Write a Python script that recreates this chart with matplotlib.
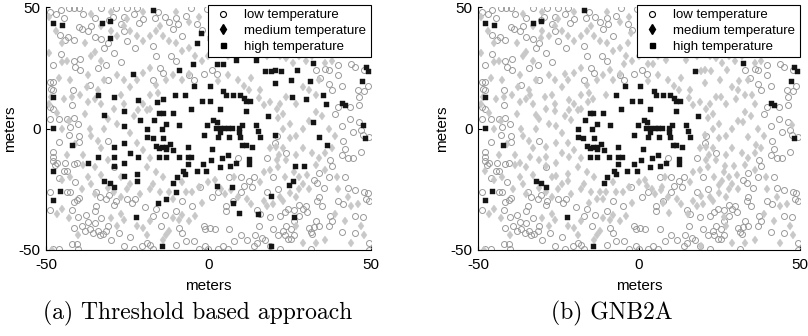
import matplotlib
matplotlib.use("Agg")
import matplotlib.pyplot as plt
from matplotlib.lines import Line2D

plt.rcParams['font.family'] = ['Liberation Sans', 'DejaVu Sans']
plt.rcParams['axes.unicode_minus'] = False

# sensor positions in meters (same field in both panels)
low_pts = [
    (-48.8, 48), (-47, 47), (-45.5, 48.6), (-42.8, 49.7), (-41.4, 49.7), (-39.7, 49.7), (-44.5, 45.5),
    (-38.5, 47.3), (-39.8, 41.8), (-38.8, 41.1), (-43.1, 37.7), (-44.1, 36.3), (-45.7, 38.4), (-41.5, 36.5),
    (-45.5, 30.8), (-47.7, 26), (-41.5, 28), (-39.5, 28.5), (-41, 25.5), (-39.5, 24), (-48.8, 19.2),
    (-47.7, 19.2), (-48.3, 16.2), (-47.7, 15.8), (-41.8, 16), (-42, 9.8), (-48.8, 8.9), (-47.7, 8),
    (-48.8, 4.1), (-46, 4.1), (-43.5, 4.1), (-41.5, 4.5), (-42.5, 0.5), (-43, -2.8), (-39.7, -3.2),
    (-39.7, -5.5), (-46, -5.5), (-47.7, -9.6), (-47.7, -11.6), (-47.7, -13.2), (-47.2, -15.2), (-46.5, -14),
    (-44, -14), (-44.5, -17.5), (-43.5, -17.5), (-41.5, -14.8), (-40.5, -14.2), (-46, -20.4), (-41, -22),
    (-48.8, -26.2), (-43.5, -26.2), (-42.5, -26.2), (-41.5, -30.4), (-40.5, -29.5), (-39.8, -28.8),
    (-48.8, -33.7), (-42, -33.7), (-40, -36.5), (-37.8, -35.5), (-41.5, -41), (-39, -40), (-42, -47.5),
    (-40.5, -47.5), (-40, -49.5), (-47.7, -49.5), (-46, -49.5), (-38, -42), (-37, -38.5),
    (-36.5, -41.5), (-35, -39), (-35.5, -43), (-34, -42), (-33.5, -44), (-32.5, -43.5), (-31.5, -42),
    (-31, -40), (-33, -37), (-34.5, -26), (-33.5, -28), (-31.5, -29), (-30.5, -27.5), (-29, -31.5),
    (-28.5, -30), (-34.5, -32), (-35, -34), (-30, -46), (-27.5, -43), (-26, -48.5), (-24, -44.5),
    (-23, -49.5), (-25, -29), (-23.5, -30.5), (-22.5, -29), (-19.5, -32.5), (-17, -36), (-14.5, -40),
    (-16, -33), (-13.5, -35.5), (-10, -33.8), (-9, -41), (-8, -43), (-10, -48), (-17, -49.5), (-18, -48),
    (-19, -47), (-20.5, -48.5), (-7, -46.5), (-4.5, -46.5), (-3, -49.5), (-1, -48.5), (0, -49.5),
    (-1.5, -40), (-1, -41.5), (0.5, -41), (2, -41.5), (3, -49.5), (4.5, -48.5), (6, -49.5), (6.5, -41.5),
    (7.5, -30), (5.5, -32), (5.5, -34), (10, -26), (11, -23.5), (12.5, -21.5), (13.5, -24), (15, -33.5),
    (15.5, -40), (14.5, -44), (15, -47), (16.5, -45), (17.5, -46), (19, -48.5), (14, -48.5), (21.5, -44),
    (23, -42), (24, -40), (23.5, -44), (24.5, -45.5), (25.5, -45.5), (22, -36), (23.5, -34.5), (24.5, -33),
    (26.5, -33.5), (28, -31.5), (29, -33), (30, -32), (30.5, -34.5), (28, -36), (26.5, -38), (25.5, -41.5),
    (22, -49.5), (31, -41), (31.5, -42.5), (32, -43.5), (32.5, -40.5), (33, -38), (34, -40), (31.5, -49.5),
    (37, -40), (37.5, -36), (38, -38), (35, -32), (33.5, -30), (34, -28), (40, -30), (41.5, -31), (45, -36),
    (41, -42.5), (45, -43), (47.5, -36.5), (49.5, -30), (48.5, -29), (49.5, -47), (49.5, -50), (48, -26),
    (49, -26.5), (45, -25.5), (43, -24.5), (42, -20), (37, -20), (35.5, -24.5), (32.5, -21), (33.5, -22.5),
    (34, -18.5), (37.5, -13), (38, -15.5), (41, -11), (43, -12), (44.5, -12), (47, -9.5), (42, -8.5),
    (41.5, -5), (44.5, -1.5), (47, -0.5), (47.5, -2.5), (49.5, -3.5), (46.5, 2.5), (43.5, 4), (41, 1),
    (39, 6), (40, 9), (43.5, 9), (46.5, 9.5), (46.5, 13), (48, 15.5), (49, 17.5), (46, 16), (41, 17.5),
    (38, 16), (37, 18.5), (36, 24.5), (37, 24), (33, 24), (34.5, 21), (44, 26.5), (45, 25.5), (48, 24),
    (40, 22), (40, 26),
    (-12, 44), (-10, 45.5), (-9.5, 43), (-11, 41), (-8, 38), (-7, 46.5), (-3.5, 43), (-2, 40.5),
    (-0.5, 49), (1, 48), (-5.5, 49.5), (-13.5, 46), (-15.5, 48), (-16.5, 45.5), (-20, 45), (-21.5, 43.5),
    (-22, 49.5), (-23, 47), (-25, 49.5), (-26, 46), (-28.5, 49.5), (-29.5, 46), (-33, 49.5), (-31, 35),
    (-32, 33), (-29, 31), (-22.5, 33), (-25, 36), (-17, 34), (-16, 30), (-11.5, 30), (-10, 28), (-6, 22),
    (-4.5, 20), (-1.5, 22.5), (1, 24), (2.5, 22.5), (-17, 20), (-15, 25), (-14, 23), (-27, 27.5),
    (-34, 25), (-31.5, 26), (-31, 20), (-36.5, 18), (-33, 37), (-35, 37.5), (-37, 40), (-36, 42),
    (-35, 45.5), (-30.5, 44.5), (-27, 43), (-26, 40),
    (10, -20), (14, -20), (20, -20), (6.5, -20), (9, -12), (18, -12), (24, -10), (20.5, -6), (21, -3),
    (18, -26), (21.5, -25), (-2.5, -24), (-5, -32), (-8, -30), (1, -28), (3, -26), (16, -35), (19, -36.5),
    (20, -41.5), (26.5, -44), (12, -46), (10, -44), (8, -46.5), (-29, -16), (-31, -5), (-40, 2),
]

med_pts = [
    (-49, 46), (-47, 40), (-45, 35), (-49, 31), (-45, 27.5), (-43.5, 28), (-42.5, 20), (-46, 21),
    (-48.5, 13), (-44.5, 12), (-42, 13), (-49, 10), (-46.5, 6.5), (-43, 3), (-45, 0), (-41, -6.5),
    (-43.5, -11), (-38.5, -11), (-45, -21), (-42.5, -20), (-46.5, -35), (-45, -33), (-43, -37), (-40, -44),
    (-48, -50), (-39, -25), (-36, -23), (-37, -20), (-38.5, -15), (-35, -16), (-36, -3), (-36.5, 0),
    (-38, 6), (-37, 11), (-35, 12), (-37.5, 17), (-37, 22), (-39.5, 14), (-36, 30), (-38, 35),
    (-35, 31.5), (-33, 28), (-32, 20), (-34, 16), (-33, 10), (-31, 4), (-32, 0), (-34, -5), (-33, -8),
    (-31, -13), (-33, -19), (-35, -27), (-31, -24.5), (-29, -26), (-27, -28), (-25, -25), (-27, -35),
    (-30, -37), (-28, -40), (-26, -37.5), (-22, -40), (-20, -41), (-18, -38), (-19, -44), (-13, -44),
    (-14, -46), (-12, -42), (-11, -37), (-9, -37.5), (-8, -35.5), (-6, -38), (-4, -36), (-2, -30.5),
    (-5, -26), (-7, -26), (-3, -24), (0, -22), (2, -21), (4, -25), (5, -27), (7, -25.5), (9, -28),
    (12, -29), (13, -31), (17, -30), (18, -32), (20, -31), (23, -30), (22, -28), (25, -26.5), (27, -28),
    (29, -23), (31, -25), (30.5, -19), (28, -20), (26.5, -18), (23.5, -20), (21.5, -16), (19, -17),
    (17, -18), (21, -13), (24, -13), (27, -11), (29, -8), (32, -10), (34, -12), (36, -10), (38, -8),
    (39.5, -20), (40, -25), (43, -28), (44, -32), (46, -31), (39, -35), (42, -38), (47, -40), (48, -44),
    (44, -47), (36, -46), (33, -47), (29, -47), (27, -40), (28, -25), (33, -15), (36, -17), (39, -3),
    (37, 0), (35, 5), (33, 7), (31, 3), (29, 0), (27, -3), (25, 2), (23, 6), (22, 10), (24, 13), (27, 10),
    (29, 17), (31, 16), (33, 14), (34, 20), (36, 27), (38, 28), (32, 30), (30, 28), (28, 30), (26, 27),
    (24, 29), (22, 30), (20, 32), (18, 30), (16, 31), (14, 33), (12, 35), (10, 38), (8, 33), (6, 30),
    (3, 32), (0, 30), (-2, 28), (-4, 30), (-6, 33), (-8, 32), (-10, 35), (-12, 36), (-14, 38), (-16, 40),
    (-18, 38), (-20, 36), (-22, 38), (-24, 40), (-26, 42), (-28, 38), (-30, 40), (-33, 42), (-36, 47),
    (-30, 48), (-25, 45), (-20, 48), (-15, 42), (-10, 48), (-6, 44), (-3, 46),
    (-28, 22), (-26, 20), (-24, 17), (-22, 20), (-20, 23), (-18, 25), (-16, 18), (-13, 20), (-11, 22),
    (-8, 20), (-6, 22.5), (3, 19.5), (6, 22), (9, 20), (11, 17.5), (13, 21), (16, 16), (19, 11), (21, 8),
    (23, 0), (25, -4), (23, -8), (19, -8), (-18, 13.8), (-15.5, 14.6), (-21.7, 7.6), (-19, 7.6),
    (12.5, 15.8), (15.5, 12.5), (17, 9.7), (21.4, 4.3), (20.8, -7.6), (21.7, -10.9), (-18, 8),
    (-20, 10), (-23, 5), (-26, 10), (-27, 14), (-29, 8), (-28, 2), (-24, -2), (-22, -6), (-20, -9),
    (-18, -12), (-19, -16), (-16, -18), (-17, -23), (-14, -20), (-27, -20), (-24, -23), (-21, -27),
    (-18, -25), (-15, -26), (-11, -29), (-8, -22), (8, -20), (16, -22), (-12, -26),
]

# high temperature in both panels
high_pts = [
    (-47.7, 43.6), (-45.1, 42.5), (-32.9, 43.6), (-30.3, 44.4), (-17.0, 48.6), (48.4, 25.5), (49.2, 23.6),
    (47.3, 19.5), (32.3, 27.1), (17.4, 23.6), (-47.7, 13.0), (-47.7, 0.3), (-42.1, -6.8), (-45.7, -25.8),
    (-47.7, -29.5), (-32.1, -21.6), (-30.3, -22.3), (-29.0, -24.2), (-22.3, -36.6), (-14.3, -48.2),
    (41.2, 10.3), (42.0, 9.6), (48.2, -4.1),
    (-4.4, 17.4), (0.5, 17.4), (-7.2, 14.0), (-2.1, 11.4), (0.5, 11.4), (4.6, 15.3), (5.4, 13.7),
    (7.6, 14.0), (9.7, 14.0), (11.0, 12.7), (11.7, 11.2), (12.8, 11.2), (-14.1, 6.2), (-15.1, 6.4),
    (-11.0, 6.4), (-16.7, 3.4), (-13.1, 1.8), (-14.4, 0.0), (-19.0, 0.0), (-9.1, 1.4), (-5.4, 8.2),
    (3.5, 8.2), (11.7, 7.1), (18.4, 5.2), (1.5, 3.7), (2.5, 2.7), (-0.4, 1.4), (2.3, 0.4), (3.5, 0.4),
    (4.9, 0.4), (6.1, 0.4), (7.3, 0.4), (9.5, 0.4), (10.2, 1.4), (14.8, 1.4), (15.3, -1.1), (15.8, -3.4),
    (9.5, -1.4), (9.8, -3.4), (3.5, -1.4), (3.0, -3.4), (6.4, -3.4), (-1.4, -2.7), (-19.0, -3.4),
    (-17.2, -4.1), (-13.9, -4.1), (-16.0, -7.1), (-14.3, -7.5), (-13.1, -7.5), (-11.9, -6.2),
    (-10.9, -8.9), (-13.1, -8.5), (-15.1, -8.2), (-6.4, -7.5), (1.2, -8.6), (10.5, -6.8), (11.7, -6.8),
    (13.5, -7.5), (-15.1, -11.6), (-13.1, -11.6), (-9.2, -11.6), (-6.4, -11.6), (-5.2, -11.6),
    (-6.4, -14.7), (-1.6, -14.4), (0.8, -13.0), (4.1, -12.3), (5.9, -10.7), (6.6, -15.3), (8.6, -14.1),
    (12.6, -12.7), (12.6, -14.7), (3.5, -15.8), (-7.8, -17.5), (-7.1, -18.8), (-3.6, -17.5),
    (-0.6, -17.5), (-10.9, -22.3), (-9.8, -19.9),
]

# high in (a) threshold approach, medium in (b) GNB2A
high_a_only = [
    (-30.3, 37.4), (-2.3, 39.5), (0.5, 37.4), (-3.4, 35.3), (-4.6, 26.4), (2.8, 26.4), (4.4, 26.4),
    (8.5, 28.1), (14.6, 28.1), (19.2, 23.6), (20.5, 24.2), (22.5, 23.6), (27.4, 24.2), (-23.1, 22.6),
    (-9.1, 24.2), (20.6, 18.8), (25.4, 20.1), (31.3, 19.5), (-33.9, 14.0), (-29.1, 13.0), (-21.8, 11.9),
    (-15.9, 11.0), (-14.1, 12.2), (-10.3, 14.0), (25.6, 13.0), (30.2, 12.3), (35.3, 14.0), (36.1, 9.9),
    (-32.1, 5.5), (-26.0, 7.1), (-25.9, 1.1), (-21.1, 3.4), (32.3, 2.7), (47.7, 1.4), (34.1, -3.4),
    (36.4, -6.8), (20.5, -2.7), (-25.9, -5.9), (-29.0, -7.5), (-24.0, -10.0), (-29.0, -11.6),
    (-33.9, -11.6), (-37.0, -14.0), (-29.0, -15.5), (-25.9, -14.0), (-21.8, -11.6), (-47.7, -17.5),
    (-25.9, -19.6), (-22.1, -18.8), (-22.1, -21.6), (26.8, -15.3), (29.5, -15.3), (25.9, -21.6),
    (24.9, -23.3), (2.7, -23.6), (7.3, -24.0), (-10.1, -26.0), (-15.4, -30.5), (-13.1, -29.2),
    (19.2, -27.8), (7.6, -30.8), (9.3, -34.9), (15.3, -35.2), (26.4, -36.6), (19.4, -48.2),
]

captions = ["(a) Threshold based approach", "(b) GNB2A"]
legend_labels = ["low temperature", "medium temperature", "high temperature"]


def xy(pts):
    return [p[0] for p in pts], [p[1] for p in pts]


def draw_panel(ax, low, med, high):
    x, y = xy(low)
    ax.plot(x, y, 'o', ms=4.3, mfc='none', mec='#9a9a9a', mew=0.7)
    x, y = xy(med)
    ax.plot(x, y, 'd', ms=4.4, mfc='#c8c8c8', mec='#c8c8c8', mew=0.3)
    x, y = xy(high)
    ax.plot(x, y, 's', ms=3.6, mfc='#151515', mec='#151515', mew=0.3)

    ax.set_xlim(-50, 50)
    ax.set_ylim(-50, 50)
    ax.set_xticks([-50, 0, 50])
    ax.set_yticks([-50, 0, 50])
    ax.tick_params(direction='in', length=3, labelsize=11, width=0.8)
    ax.tick_params(axis='x', pad=6)
    ax.tick_params(axis='y', pad=4)
    for side in ['top', 'right']:
        ax.spines[side].set_visible(False)
    ax.set_xlabel('meters', fontsize=11, labelpad=5)
    ax.set_ylabel('meters', fontsize=11, labelpad=1)

    handles = [
        Line2D([], [], ls='none', marker='o', ms=4.3, mfc='none', mec='black', mew=0.8),
        Line2D([], [], ls='none', marker='d', ms=5, mfc='black', mec='black'),
        Line2D([], [], ls='none', marker='s', ms=3.6, mfc='black', mec='black'),
    ]
    leg = ax.legend(handles, legend_labels, loc='upper right', bbox_to_anchor=(1.0, 1.01),
                    borderaxespad=0, fontsize=9.5, frameon=True, fancybox=False,
                    framealpha=1, edgecolor='black', handletextpad=0.8, labelspacing=0.25,
                    borderpad=0.35, handlelength=1.6)
    leg.get_frame().set_linewidth(0.8)


fig = plt.figure(figsize=(8.08, 3.36), dpi=100)
ax_a = fig.add_axes([0.0569, 0.256, 0.402, 0.723])
ax_b = fig.add_axes([0.5916, 0.256, 0.398, 0.723])

draw_panel(ax_a, low_pts, med_pts, high_pts + high_a_only)
draw_panel(ax_b, low_pts, med_pts + high_a_only, high_pts)

# subfigure captions, centred under each half of the page
fig.text(0.245, 0.068, captions[0], ha='center', va='center', fontsize=17, family='cmr10')
fig.text(0.757, 0.068, captions[1], ha='center', va='center', fontsize=17, family='cmr10')

fig.savefig('out.png', dpi=100)
